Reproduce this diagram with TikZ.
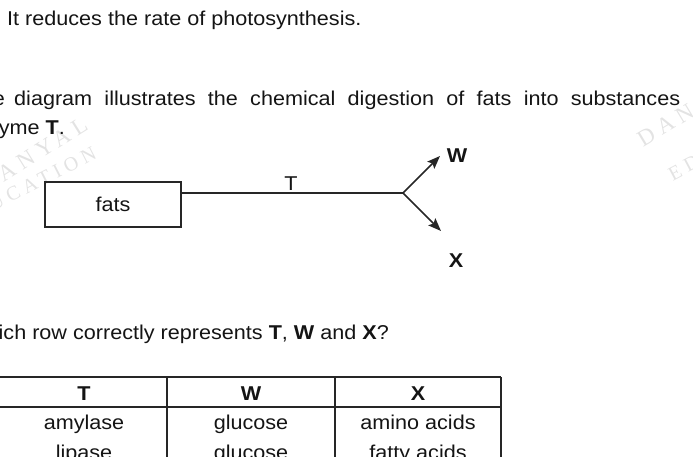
\documentclass[tikz,border=0pt]{standalone}
\usepackage{fontspec}
\setmainfont{Liberation Sans}[FakeStretch=1.08]
\newfontfamily\wmfont{Liberation Serif}[LetterSpace=25]
\usetikzlibrary{arrows.meta}
\tikzset{
  txt/.style={inner sep=0pt, anchor=base west, text=black!92},
  ctr/.style={inner sep=0pt, anchor=base, text=black!92},
  ln/.style={line width=1.6pt, draw=black!85},
  arr/.style={ln, -{Stealth[length=13pt,width=10pt,inset=2.5pt]}},
  tl/.style={line width=1.3pt, draw=black!85},
  boxed/.style={ln, minimum width=136pt, minimum height=45pt, inner sep=0pt, text=black!92},
  wmA/.style={inner sep=0pt, text=black!11, font=\wmfont\fontsize{23}{23}\selectfont},
  wmB/.style={inner sep=0pt, text=black!11, font=\wmfont\fontsize{20}{20}\selectfont},
}
\begin{document}
\begin{tikzpicture}[x=1pt,y=-1pt, font=\fontsize{20}{24}\selectfont]
\useasboundingbox (0,0) rectangle (693,457);
\begin{scope}
\clip (0,0) rectangle (693,457);
% watermark
\node[wmA, rotate=32] (wm1) at (33,155) {DANYAL};
\node[wmB, rotate=27] (wm2) at (26,187) {EDUCATION};
\node[wmA, rotate=31] (wm3) at (692,109) {DANYAL};
\node[wmB, rotate=28] (wm4) at (738,139) {EDUCATION};
% text
\node[txt] (l1) at (7,26) {It reduces the rate of photosynthesis.};
\node[txt, anchor=base east] (the) at (5,106) {The};
\node[txt] (l2) at (14,106) {\makebox[666pt][s]{diagram illustrates the chemical digestion of fats into substances}};
\node[txt, anchor=base east] (l3) at (65,135) {enzyme \textbf{T}.};
% diagram
\node[boxed, draw] (fats) at (113,204.5) {fats};
\coordinate (br) at (403,193);
\coordinate (wtip) at (440,156);
\coordinate (xtip) at (441,231);
\draw[ln] (fats.east |- br) -- (br);
\draw[arr] (br) -- (wtip);
\draw[arr] (br) -- (xtip);
\node[ctr] (tlab) at (291,191) {T};
\node[ctr] (wlab) at (457,163) {\textbf{W}};
\node[ctr] (xlab) at (456,267) {\textbf{X}};
% question
\node[txt, anchor=base east] (q) at (389,339) {Which row correctly represents \textbf{T}, \textbf{W} and \textbf{X}?};
% table
\coordinate (tTL) at (-5,377);
\coordinate (tTR) at (501,377);
\coordinate (tHL) at (-5,407);
\coordinate (tHR) at (501,407);
\draw[tl] (tTL) -- (tTR);
\draw[tl] (tHL) -- (tHR);
\draw[tl] (167,377) -- (167,470);
\draw[tl] (335,377) -- (335,470);
\draw[tl] (tTR) -- (501,470);
\node[ctr] (h1) at (84,400) {\textbf{T}};
\node[ctr] (h2) at (251,400) {\textbf{W}};
\node[ctr] (h3) at (418,400) {\textbf{X}};
\node[ctr] (a1) at (84,429) {amylase};
\node[ctr] (a2) at (251,429) {glucose};
\node[ctr] (a3) at (418,429) {amino acids};
\node[ctr] (b1) at (84,459) {lipase};
\node[ctr] (b2) at (251,459) {glucose};
\node[ctr] (b3) at (418,459) {fatty acids};
\end{scope}
\end{tikzpicture}
\end{document}
